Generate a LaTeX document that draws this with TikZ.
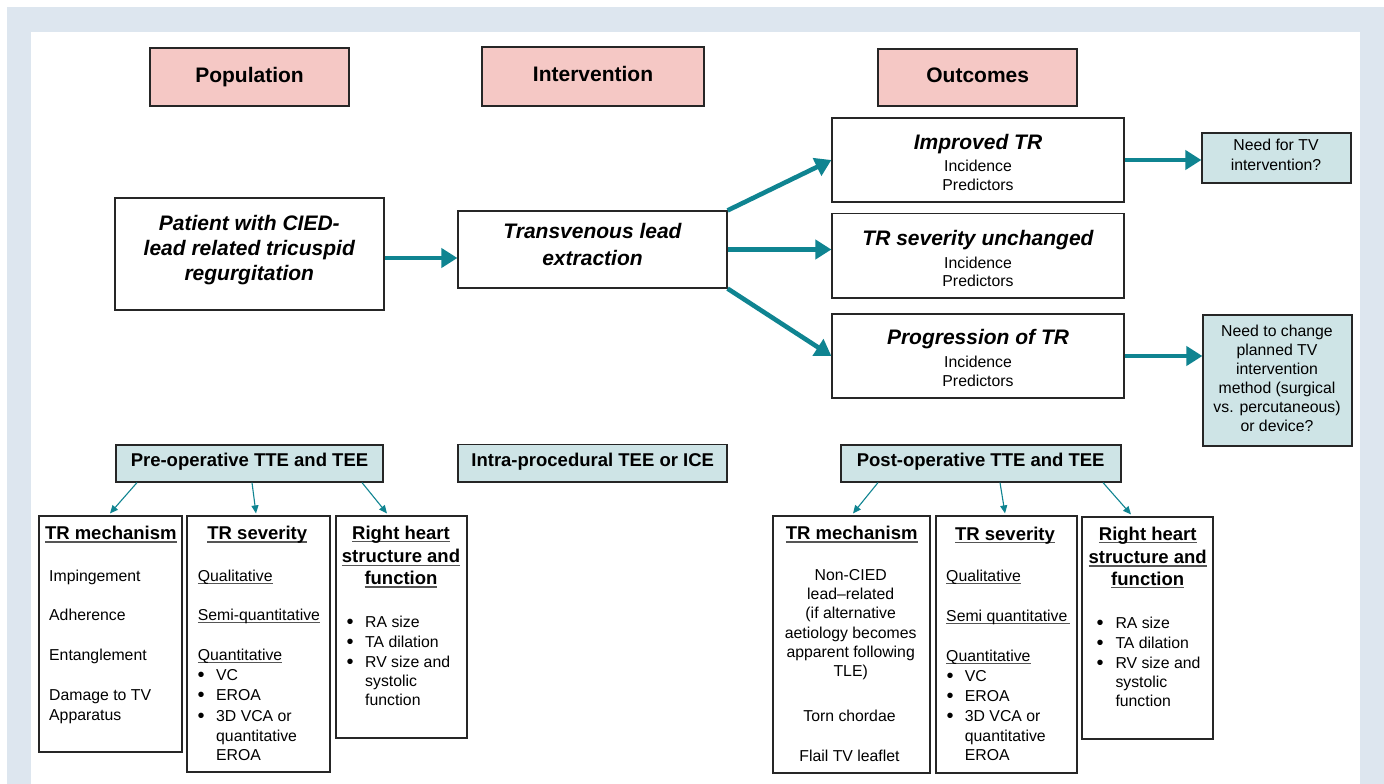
\documentclass[tikz,border=0pt]{standalone}
\usepackage{fontspec}
\setmainfont{Liberation Sans}
\usetikzlibrary{arrows.meta}
\definecolor{frameblue}{HTML}{DDE6EF}
\definecolor{pinkfill}{HTML}{F5C8C5}
\definecolor{tealfill}{HTML}{CEE4E6}
\definecolor{tealline}{HTML}{0F8491}
\definecolor{ulgray}{HTML}{555555}
\newcommand\FHead{\fontsize{21}{25.5}\selectfont\bfseries}
\newcommand\FBig{\fontsize{21}{26}\selectfont\bfseries\itshape}
\newcommand\FBody{\fontsize{15.8}{19.5}\selectfont}
\newcommand\FBul{\fontsize{20}{20}\selectfont}
\newcommand\FTitle{\fontsize{18.5}{22.5}\selectfont\bfseries}
\newcommand\ulA[1]{\setbox0\hbox{#1}\rlap{\color{ulgray}\rule[-2.6pt]{\wd0}{1pt}}\box0}
\newcommand\ulB[1]{\setbox0\hbox{#1}\rlap{\color{ulgray}\rule[-3.2pt]{\wd0}{1.4pt}}\box0}
\tikzset{
  x=1pt, y=-1pt,
  box/.style={draw=black!85, line width=1.2pt, inner sep=0pt, fill=white},
  pinkbox/.style={box, fill=pinkfill},
  tealbox/.style={box, fill=tealfill},
  txt/.style={inner sep=0pt, anchor=base},
  txl/.style={inner sep=0pt, anchor=base west},
  body/.style={font=\FBody},
  bul/.style={inner sep=0pt, anchor=base, font=\FBul},
  bigarrow/.style={-{Triangle[length=16pt,width=19pt]}, line width=4.6pt, draw=tealline},
  smallarrow/.style={-{Triangle[length=8pt,width=7pt]}, line width=1.1pt, draw=tealline}
}
\begin{document}
\begin{tikzpicture}
\useasboundingbox (0,0) rectangle (1384,784);
\fill[frameblue] (7,7) rectangle (1384,784);
\fill[white] (31,32) rectangle (1360,784);

% ---- header boxes
\node[pinkbox, minimum width=199pt, minimum height=58pt] (pop) at (249.5,77) {};
\node[pinkbox, minimum width=222pt, minimum height=59pt] (intv) at (593,76.5) {};
\node[pinkbox, minimum width=199pt, minimum height=57pt] (outc) at (977.5,77.5) {};
\node[txt, font=\FHead] (popT) at (249.5,82.3) {Population};
\node[txt, font=\FHead] (intvT) at (593,81.7) {Intervention};
\node[txt, font=\FHead] (outcT) at (977.7,82.7) {Outcomes};

% ---- main flow boxes
\node[box, minimum width=269pt, minimum height=112pt] (pat) at (249.5,254) {};
\node[txt, font=\FBig] (pat1) at (249.3,230) {Patient with CIED-};
\node[txt, font=\FBig] (pat2) at (249.3,255.3) {lead related tricuspid};
\node[txt, font=\FBig] (pat3) at (249.3,280.7) {regurgitation};

\node[box, minimum width=269pt, minimum height=77pt] (tle) at (592.5,249.5) {};
\node[txt, font=\FBig] (tle1) at (592.5,238.3) {Transvenous lead};
\node[txt, font=\FBig] (tle2) at (592.5,265) {extraction};

\node[box, minimum width=292pt, minimum height=84pt] (imp) at (978,160) {};
\node[txt, font=\FBig] (imp1) at (978,149.3) {Improved TR};
\node[txt, body] (imp2) at (978,171.7) {Incidence};
\node[txt, body] (imp3) at (978,190.7) {Predictors};

\node[box, minimum width=292pt, minimum height=84.5pt] (unch) at (978,255.75) {};
\node[txt, font=\FBig] (unch1) at (978,245) {TR severity unchanged};
\node[txt, body] (unch2) at (978,268.3) {Incidence};
\node[txt, body] (unch3) at (978,286.7) {Predictors};

\node[box, minimum width=292pt, minimum height=84pt] (prog) at (978,356) {};
\node[txt, font=\FBig] (prog1) at (978,344.3) {Progression of TR};
\node[txt, body] (prog2) at (978,367.7) {Incidence};
\node[txt, body] (prog3) at (978,386.7) {Predictors};

\node[tealbox, minimum width=149pt, minimum height=50pt] (need1) at (1276.5,158) {};
\node[txt, body] (need1a) at (1276,150.7) {Need for TV};
\node[txt, body] (need1b) at (1276,170.7) {intervention?};

\node[tealbox, minimum width=149pt, minimum height=131pt] (need2) at (1277.5,380.5) {};
\node[txt, body] (need2a) at (1277,336.7) {Need to change};
\node[txt, body] (need2b) at (1277,355) {planned TV};
\node[txt, body] (need2c) at (1277,374) {intervention};
\node[txt, body] (need2d) at (1277,393.3) {method (surgical};
\node[txt, body] (need2e) at (1277,412.3) {vs. percutaneous)};
\node[txt, body] (need2f) at (1277,431.7) {or device?};

% ---- big arrows
\draw[bigarrow] (pat.east |- 0,258) -- (tle.west |- 0,258);
\draw[bigarrow] (tle.north east) -- (imp.west);
\draw[bigarrow] (tle.east) -- (unch.west |- tle.east);
\draw[bigarrow] (tle.south east) -- (prog.west);
\draw[bigarrow] (imp.east) -- (need1.west |- imp.east);
\draw[bigarrow] (prog.east) -- (need2.west |- prog.east);

% ---- imaging boxes
\node[tealbox, minimum width=267pt, minimum height=37pt] (preop) at (249.5,463.5) {};
\node[txt, font=\FTitle] (preopT) at (249.5,466.7) {Pre-operative TTE and TEE};
\node[tealbox, minimum width=269pt, minimum height=37.5pt] (intra) at (592.5,463.25) {};
\node[txt, font=\FTitle] (intraT) at (592.7,466.7) {Intra-procedural TEE or ICE};
\node[tealbox, minimum width=280pt, minimum height=37pt] (postop) at (981,463.5) {};
\node[txt, font=\FTitle] (postopT) at (980.7,466.7) {Post-operative TTE and TEE};

% ---- detail boxes (pre-operative)
\node[box, minimum width=143pt, minimum height=236pt] (lm) at (110.5,634) {};
\node[box, minimum width=143pt, minimum height=256pt] (ls) at (258.5,644) {};
\node[box, minimum width=131pt, minimum height=222pt] (lr) at (401.5,627) {};

\draw[smallarrow] (preop.south -| 137,0) -- ([yshift=2pt]lm.north -| 110,0);
\draw[smallarrow] (preop.south -| 252,0) -- ([yshift=2pt]ls.north -| 256,0);
\draw[smallarrow] (preop.south -| 362,0) -- ([yshift=2pt]lr.north -| 387,0);

\node[txt, font=\FTitle] (lmT) at (110.8,539.3) {\ulB{TR mechanism}};
\node[txl, body] (lm1) at (49,581.7) {Impingement};
\node[txl, body] (lm2) at (49,620.7) {Adherence};
\node[txl, body] (lm3) at (49,660.7) {Entanglement};
\node[txl, body] (lm4) at (49,700.7) {Damage to TV};
\node[txl, body] (lm5) at (49,720.7) {Apparatus};

\node[txt, font=\FTitle] (lsT) at (257.3,539.3) {\ulB{TR severity}};
\node[txl, body] (ls1) at (197.7,581.7) {\ulA{Qualitative}};
\node[txl, body] (ls2) at (197.7,620.7) {\ulA{Semi-quantitative}};
\node[txl, body] (ls3) at (197.7,660.7) {\ulA{Quantitative}};
\node[bul] (lsb1) at (201,681.7) {\textbullet};
\node[bul] (lsb2) at (201,701.7) {\textbullet};
\node[bul] (lsb3) at (201,722.7) {\textbullet};
\node[txl, body] (ls4) at (216,680.7) {VC};
\node[txl, body] (ls5) at (216,700.7) {EROA};
\node[txl, body] (ls6) at (216,721.7) {3D VCA or};
\node[txl, body] (ls7) at (216,741.7) {quantitative};
\node[txl, body] (ls8) at (216,760.7) {EROA};

\node[txt, font=\FTitle] (lrT1) at (401,539) {\ulB{Right heart}};
\node[txt, font=\FTitle] (lrT2) at (401,562.7) {\ulB{structure and}};
\node[txt, font=\FTitle] (lrT3) at (401,584.3) {\ulB{function}};
\node[bul] (lrb1) at (350,628.7) {\textbullet};
\node[bul] (lrb2) at (350,648.7) {\textbullet};
\node[bul] (lrb3) at (350,668.3) {\textbullet};
\node[txl, body] (lr1) at (365,627.7) {RA size};
\node[txl, body] (lr2) at (365,647.7) {TA dilation};
\node[txl, body] (lr3) at (365,667.3) {RV size and};
\node[txl, body] (lr4) at (365,686.7) {systolic};
\node[txl, body] (lr5) at (365,705.3) {function};

% ---- detail boxes (post-operative)
\node[box, minimum width=157pt, minimum height=257pt] (rm) at (851.5,644.5) {};
\node[box, minimum width=141pt, minimum height=257pt] (rs) at (1006.5,644.5) {};
\node[box, minimum width=131pt, minimum height=222pt] (rr) at (1147.5,628) {};

\draw[smallarrow] (postop.south -| 878,0) -- ([yshift=2pt]rm.north -| 853,0);
\draw[smallarrow] (postop.south -| 1000,0) -- ([yshift=2pt]rs.north -| 1005,0);
\draw[smallarrow] (postop.south -| 1103,0) -- ([yshift=2pt]rr.north -| 1131,0);

\node[txt, font=\FTitle] (rmT) at (851.7,539.3) {\ulB{TR mechanism}};
\node[txt, body] (rm1) at (850.7,580.7) {Non-CIED};
\node[txt, body] (rm2) at (850.7,599.3) {lead–related};
\node[txt, body] (rm3) at (850.7,618.3) {(if alternative};
\node[txt, body] (rm4) at (850.7,638.3) {aetiology becomes};
\node[txt, body] (rm5) at (850.7,657.3) {apparent following};
\node[txt, body] (rm6) at (850.7,676) {TLE)};
\node[txt, body] (rm7) at (849.5,721) {Torn chordae};
\node[txt, body] (rm8) at (849.5,761) {Flail TV leaflet};

\node[txt, font=\FTitle] (rsT) at (1005,540) {\ulB{TR severity}};
\node[txl, body] (rs1) at (946,581.7) {\ulA{Qualitative}};
\node[txl, body] (rs2) at (946,621) {\ulA{Semi quantitative\,}};
\node[txl, body] (rs3) at (946,661) {\ulA{Quantitative}};
\node[bul] (rsb1) at (950,682) {\textbullet};
\node[bul] (rsb2) at (950,702) {\textbullet};
\node[bul] (rsb3) at (950,722) {\textbullet};
\node[txl, body] (rs4) at (964.7,681) {VC};
\node[txl, body] (rs5) at (964.7,701) {EROA};
\node[txl, body] (rs6) at (964.7,721) {3D VCA or};
\node[txl, body] (rs7) at (964.7,741) {quantitative};
\node[txl, body] (rs8) at (964.7,760) {EROA};

\node[txt, font=\FTitle] (rrT1) at (1147.7,540) {\ulB{Right heart}};
\node[txt, font=\FTitle] (rrT2) at (1147.7,563.3) {\ulB{structure and}};
\node[txt, font=\FTitle] (rrT3) at (1147.7,585) {\ulB{function}};
\node[bul] (rrb1) at (1100,629.3) {\textbullet};
\node[bul] (rrb2) at (1100,649.3) {\textbullet};
\node[bul] (rrb3) at (1100,669.3) {\textbullet};
\node[txl, body] (rr1) at (1115.3,628.3) {RA size};
\node[txl, body] (rr2) at (1115.3,648.3) {TA dilation};
\node[txl, body] (rr3) at (1115.3,668.3) {RV size and};
\node[txl, body] (rr4) at (1115.3,687.3) {systolic};
\node[txl, body] (rr5) at (1115.3,706) {function};
\end{tikzpicture}
\end{document}
